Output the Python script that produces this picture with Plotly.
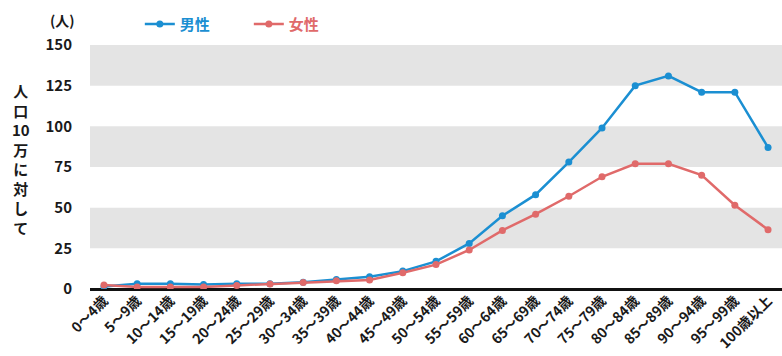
import plotly.graph_objects as go

categories = ["0〜4歳", "5〜9歳", "10〜14歳", "15〜19歳", "20〜24歳", "25〜29歳", "30〜34歳",
              "35〜39歳", "40〜44歳", "45〜49歳", "50〜54歳", "55〜59歳", "60〜64歳", "65〜69歳",
              "70〜74歳", "75〜79歳", "80〜84歳", "85〜89歳", "90〜94歳", "95〜99歳", "100歳以上"]
male = [1.5, 3.3, 3.3, 2.8, 3.3, 3.3, 4.2, 5.8, 7.6, 11, 17, 28, 45, 58, 78, 99, 125, 131, 121, 121, 87]
female = [2.5, 1.2, 1.2, 1.2, 2.2, 3.0, 4.0, 5.0, 5.6, 10, 15, 24, 36, 46, 57, 69, 77, 77, 70, 51.5, 36.5]
y_ticks = [0, 25, 50, 75, 100, 125, 150]
y_title_chars = ["人", "口", "10", "万", "に", "対", "し", "て"]

BLUE = "#1b8fd2"
RED = "#e06a6a"
FONT = "Noto Sans CJK JP"
TXT = "#1a1a1a"

W, H = 782, 356
ML, MR, MT, MB = 90, 0, 45, 67
PW, PH = W - ML - MR, H - MT - MB


def px_x(px):
    return (px - ML) / PW


def px_y(py):
    return 1 - (py - MT) / PH


x = list(range(len(categories)))
fig = go.Figure()
fig.add_trace(go.Scatter(x=x, y=male, mode="lines+markers",
                         name=f"<span style='color:{BLUE}'><b>男性</b></span>",
                         line=dict(color=BLUE, width=2.5), marker=dict(color=BLUE, size=7)))
fig.add_trace(go.Scatter(x=x, y=female, mode="lines+markers",
                         name=f"<span style='color:{RED}'><b>女性</b></span>",
                         line=dict(color=RED, width=2.5), marker=dict(color=RED, size=7)))

shapes = []
for i in range(1, len(y_ticks) - 1, 2):
    shapes.append(dict(type="rect", xref="paper", yref="y", x0=0, x1=1,
                       y0=y_ticks[i], y1=y_ticks[i + 1], fillcolor="#e4e4e4",
                       line=dict(width=0), layer="below"))

annotations = [
    dict(text="<b>(人)</b>", xref="paper", yref="paper", x=px_x(77), y=px_y(20),
         xanchor="right", yanchor="middle", showarrow=False,
         font=dict(size=14, family=FONT, color=TXT)),
    dict(text="<b>" + "<br>".join(y_title_chars) + "</b>", xref="paper", yref="paper",
         x=px_x(21), y=px_y(158.5), xanchor="center", yanchor="middle",
         showarrow=False, font=dict(size=15, family=FONT, color=TXT)),
]

fig.update_layout(
    width=W, height=H,
    margin=dict(l=ML, r=MR, t=MT, b=MB),
    paper_bgcolor="white", plot_bgcolor="white",
    font=dict(family=FONT, color=TXT),
    shapes=shapes,
    showlegend=True,
    legend=dict(orientation="h", x=0.072, y=1.085, xanchor="left", yanchor="middle",
                font=dict(size=15, family=FONT), entrywidth=64, bgcolor="rgba(0,0,0,0)"),
    xaxis=dict(tickmode="array", tickvals=x, ticktext=[f"<b>{c}</b>" for c in categories],
               tickangle=-45, range=[-0.42, 20.42], showgrid=False, zeroline=False,
               showline=False, tickfont=dict(size=14, family=FONT, color=TXT),
               ticks=""),
    yaxis=dict(tickmode="array", tickvals=y_ticks, ticktext=[f"<b>{v}</b>" for v in y_ticks],
               range=[0, 150], showgrid=False, zeroline=True, zerolinecolor="#111",
               zerolinewidth=3, showline=False,
               ticks="outside", ticklen=14, tickcolor="rgba(0,0,0,0)",
               tickfont=dict(size=15, family=FONT, color=TXT)),
    annotations=annotations,
)
fig.write_html("out.html")
